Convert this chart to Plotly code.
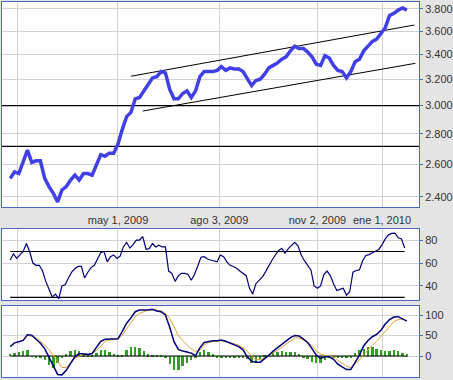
import plotly.graph_objects as go
import pandas as pd

# ---------------- data ----------------
start_date = "2009-01-21"
step = "4D"        # price / MACD sampling
rsi_step = "3D"    # RSI sampling

price = [2.51, 2.55, 2.54, 2.61, 2.69, 2.61, 2.62, 2.62, 2.51, 2.46,
         2.42, 2.37, 2.44, 2.46, 2.50, 2.53, 2.50, 2.54, 2.54, 2.53,
         2.60, 2.66, 2.65, 2.67, 2.67, 2.73, 2.83, 2.92, 2.95, 3.05,
         3.06, 3.11, 3.17, 3.21, 3.22, 3.26, 3.25, 3.12, 3.05, 3.05,
         3.09, 3.11, 3.06, 3.11, 3.22, 3.26, 3.26, 3.26, 3.27, 3.30,
         3.27, 3.29, 3.28, 3.28, 3.26, 3.21, 3.15, 3.19, 3.20, 3.24,
         3.29, 3.31, 3.33, 3.36, 3.38, 3.43, 3.47, 3.45, 3.45, 3.42,
         3.38, 3.32, 3.31, 3.39, 3.37, 3.31, 3.27, 3.26, 3.21, 3.26,
         3.34, 3.36, 3.43, 3.47, 3.51, 3.53, 3.58, 3.63, 3.74, 3.76,
         3.79, 3.81, 3.79]

rsi = [62.6, 68, 64, 67, 70, 77, 70, 60, 58, 58,
       53, 44, 37, 30.5, 33, 29, 40, 41, 47, 52,
       55, 57, 57, 47, 52, 56, 58, 63, 69, 70,
       61, 65.5, 67, 64, 66, 74, 78, 73, 76, 80,
       80, 83, 72, 72.5, 77, 74, 75.5, 74, 74, 53,
       51, 44, 49, 51, 51, 50, 45, 50, 58, 65,
       65.5, 63.5, 62.6, 62, 61, 67, 65.5, 61, 58, 57,
       55.5, 53, 51, 49, 38, 33, 42, 45, 48, 52.5,
       58, 62.6, 67, 71, 72.8, 68.5, 72.5, 75.7, 78, 75,
       67, 62, 58, 54, 40, 38, 40, 50, 53, 49,
       42, 36, 37, 38, 32, 35, 52, 53.5, 54, 62,
       66.5, 67.3, 69, 70.2, 71.8, 76, 81, 84.5, 85.8, 86,
       82, 81, 73]

macd = [23, 32, 35, 38, 52, 51, 41, 31, 18, -3,
        -28, -45, -46, -35, -18, -2, 6, 5, 4, 6,
        20, 36, 41, 41, 41, 42, 60, 80, 93, 108,
        112, 112, 112, 114, 110, 108, 100, 70, 35, 16,
        12, 10, 7, 1, 20, 33, 35, 37, 37, 39,
        36, 32, 28, 23, 15, -2, -13, -15, -15, -7,
        2, 12, 20, 30, 38, 45, 50, 49, 41, 33,
        18, 2, -6, -2, -2, -8, -20, -26, -33, -33,
        -14, 2, 25, 38, 47, 53, 63, 78, 89, 95,
        96, 91, 85]

signal = [None, None, None, None, 50, 48, 44, 36, 27, 15,
          0, -15, -28, -28, -18, -6, 0, 3, 4, 6,
          13, 25, 35, 39, 40, 41, 51, 66, 82, 96,
          104, 109, 112, 112, 112, 110, 104, 92, 70, 50,
          38, 27, 17, 11, 15, 27, 33, 35, 36, 37,
          35, 33, 30, 26, 20, 11, -1, -8, -9, -5,
          1, 6, 14, 22, 30, 37, 44, 44, 40, 33,
          25, 12, 5, 1, -1, -2, -10, -18, -25, -28,
          -20, -10, 3, 15, 26, 36, 48, 60, 73, 84,
          89, 90, 86]

hist = [6, 8, 10, 12, 14, -2, -4, -6, -10, -22,
        -30, -18, -6, 6, 12, 15, 12, 4, 3, 3,
        8, 15, 14, 10, 5, 3, 3, 14, 22, 23,
        20, 12, 4, 3, 2, 2, -6, -20, -35, -33,
        -24, -16, -10, -3, 10, 14, 10, 4, -3, -4,
        -4, -5, -5, -4, -5, -8, -16, -17, -8, 2,
        4, 8, 11, 12, 10, 11, 10, 6, -3, -8,
        -14, -18, -16, -10, -4, -3, -4, -5, -5, -4,
        8, 14, 16, 22, 23, 18, 14, 12, 13, 15,
        13, 8, 4]

price_levels = [3.0, 2.715]
rsi_levels = [70, 30]
macd_levels = [0]

trend_dates_upper = ["2009-05-13", "2010-01-31"]
trend_upper = [3.223, 3.654]
trend_dates_lower = ["2009-05-24", "2010-02-01"]
trend_lower = [2.960, 3.327]

grid_dates = ["2009-01-28", "2009-05-01", "2009-08-03", "2009-11-02", "2010-01-01"]
grid_labels = ["", "may 1, 2009", "ago 3, 2009", "nov 2, 2009", "ene 1, 2010"]

price_ticks = [2.4, 2.6, 2.8, 3.0, 3.2, 3.4, 3.6, 3.8]
price_tick_labels = ["2.400", "2.600", "2.800", "3.000", "3.200", "3.400", "3.600", "3.800"]
rsi_ticks = [40, 60, 80]
macd_ticks = [0, 50, 100]

x_range = ["2009-01-13 09:00", "2010-02-04 07:00"]

# ---------------- figure ----------------
dates = pd.date_range(start_date, periods=len(price), freq=step)
rsi_dates = pd.date_range(start_date, periods=len(rsi), freq=rsi_step)

BLUE_BORDER = "#4a66c4"
GRID = "#d2d2d2"
FONT = dict(family="Liberation Sans, Arial, sans-serif", size=11, color="#333333")

fig = go.Figure()

# price panel
for lvl in price_levels:
    fig.add_trace(go.Scatter(x=x_range, y=[lvl, lvl], mode="lines",
                             line=dict(color="black", width=1.2),
                             xaxis="x", yaxis="y", hoverinfo="skip"))
fig.add_trace(go.Scatter(x=trend_dates_upper, y=trend_upper, mode="lines",
                         line=dict(color="black", width=1), xaxis="x", yaxis="y"))
fig.add_trace(go.Scatter(x=trend_dates_lower, y=trend_lower, mode="lines",
                         line=dict(color="black", width=1), xaxis="x", yaxis="y"))
fig.add_trace(go.Scatter(x=dates, y=price, mode="lines",
                         line=dict(color="#4040e6", width=3.5),
                         xaxis="x", yaxis="y"))

# RSI panel
for lvl in rsi_levels:
    fig.add_trace(go.Scatter(x=[rsi_dates[0], rsi_dates[-1]], y=[lvl, lvl], mode="lines",
                             line=dict(color="black", width=1.2),
                             xaxis="x2", yaxis="y2"))
fig.add_trace(go.Scatter(x=rsi_dates, y=rsi, mode="lines",
                         line=dict(color="#00007a", width=1.2),
                         xaxis="x2", yaxis="y2"))

# MACD panel
fig.add_trace(go.Bar(x=dates, y=hist, marker=dict(color="#2f9e22", line=dict(width=0)),
                     width=2.2 * 86400000, xaxis="x3", yaxis="y3"))
for lvl in macd_levels:
    fig.add_trace(go.Scatter(x=[dates[0], dates[-1]], y=[lvl, lvl], mode="lines",
                             line=dict(color="black", width=1.2),
                             xaxis="x3", yaxis="y3"))
fig.add_trace(go.Scatter(x=dates, y=signal, mode="lines",
                         line=dict(color="#e0a030", width=1),
                         xaxis="x3", yaxis="y3"))
fig.add_trace(go.Scatter(x=dates, y=macd, mode="lines",
                         line=dict(color="#00007a", width=1.5),
                         xaxis="x3", yaxis="y3"))

W, H = 453, 380
xdom = [2 / W, 419 / W]


def ydom(top, bottom):
    return [1 - bottom / H, 1 - top / H]


common_x = dict(type="date", range=x_range, domain=xdom, showline=True, mirror=True,
                linecolor=BLUE_BORDER, linewidth=1, showgrid=True, gridcolor=GRID,
                gridwidth=1, tickvals=grid_dates, ticktext=grid_labels, zeroline=False,
                ticks="", tickfont=FONT)
common_y = dict(side="right", showline=True, mirror=True, linecolor=BLUE_BORDER,
                linewidth=1, showgrid=True, gridcolor=GRID, gridwidth=1, zeroline=False,
                ticks="outside", ticklen=3, tickcolor=BLUE_BORDER, tickfont=FONT)

fig.update_layout(
    width=W, height=H,
    margin=dict(l=0, r=0, t=0, b=0),
    paper_bgcolor="#e4e4e4",
    plot_bgcolor="white",
    showlegend=False,
    bargap=0,
    font=FONT,
    xaxis=dict(common_x, anchor="y", showticklabels=True, ticklabelstandoff=3),
    xaxis2=dict(common_x, anchor="y2", matches="x", showticklabels=False),
    xaxis3=dict(common_x, anchor="y3", matches="x", showticklabels=False),
    yaxis=dict(common_y, anchor="x", type="log", domain=ydom(2, 207),
               range=[0.36926, 0.58722], tickmode="array", tickvals=price_ticks,
               ticktext=price_tick_labels),
    yaxis2=dict(common_y, anchor="x2", domain=ydom(229, 300), range=[27.8, 89.6],
                tickvals=rsi_ticks),
    yaxis3=dict(common_y, anchor="x3", domain=ydom(306, 377), range=[-51.2, 122],
                tickvals=macd_ticks),
)

fig.write_html(
    "out.html",
    config={"displayModeBar": False},
    post_script="document.body.style.margin='0';document.body.style.padding='0';"
                "document.body.style.background='#e4e4e4';",
)
